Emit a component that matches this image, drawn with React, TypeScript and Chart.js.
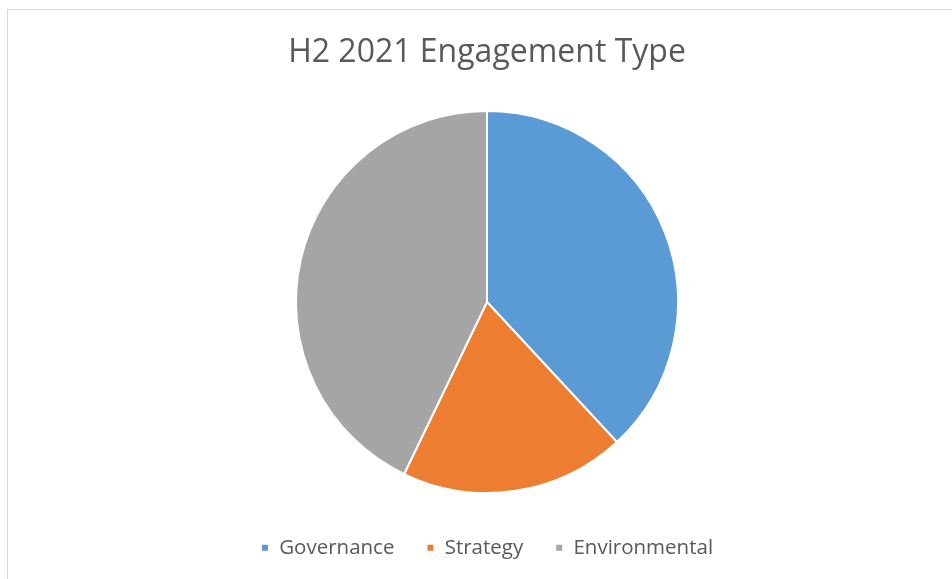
import React, { useEffect, useRef } from "react";
import { Chart, registerables } from "chart.js";

Chart.register(...registerables);

const titleText = "H2 2021 Engagement Type";
const categories = ["Governance", "Strategy", "Environmental"];
const values = [8, 4, 9];
const colors = ["#5B9BD5", "#ED7D31", "#A5A5A5"];

export default function App() {
  const ref = useRef<HTMLCanvasElement | null>(null);

  useEffect(() => {
    document.body.style.margin = "0";
    document.body.style.overflow = "hidden";
    const ctx = ref.current;
    if (!ctx) return;
    const chart = new Chart(ctx, {
      type: "pie",
      data: {
        labels: categories,
        datasets: [
          {
            data: values,
            backgroundColor: colors,
            borderColor: "#ffffff",
            borderWidth: 2,
          },
        ],
      },
      options: {
        animation: false,
        responsive: false,
        devicePixelRatio: 1,
        radius: 191,
        layout: { padding: { left: 22, right: 0, top: 0, bottom: 11 } },
        plugins: {
          title: {
            display: true,
            text: titleText,
            color: "#595959",
            font: { family: "'Open Sans'", size: 32, weight: "normal" },
            padding: { top: 34, bottom: 26 },
          },
          legend: {
            position: "bottom",
            labels: {
              color: "#595959",
              font: { family: "'Open Sans'", size: 20.5 },
              boxWidth: 8,
              boxHeight: 8,
              padding: 32,
            },
          },
          tooltip: { enabled: false },
        },
      },
    });
    return () => chart.destroy();
  }, []);

  return (
    <div style={{ position: "fixed", left: 0, top: 0, width: 952, height: 579, overflow: "hidden", background: "#fff" }}>
      <div
        style={{
          position: "absolute",
          left: 7,
          top: 9,
          width: 1200,
          height: 900,
          border: "1px solid #d9d9d9",
          boxSizing: "border-box",
        }}
      />
      <canvas ref={ref} width={952} height={579} style={{ position: "absolute", left: 0, top: 0 }} />
    </div>
  );
}
